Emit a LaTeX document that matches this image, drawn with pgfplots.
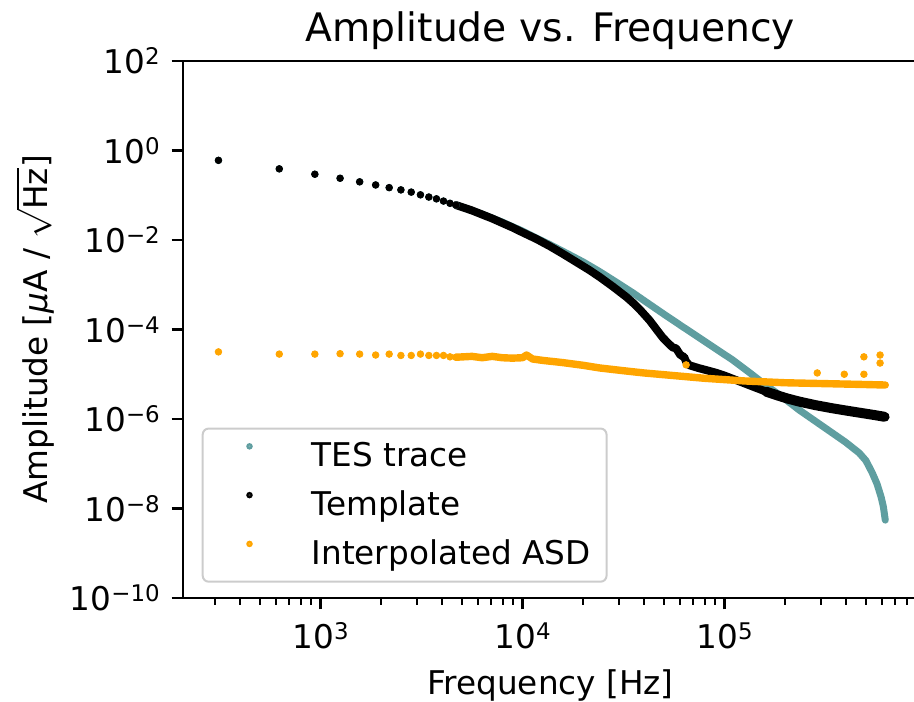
\documentclass[border=0pt]{standalone}
\usepackage{pgfplots}
\pgfplotsset{compat=1.18}
\usepackage{amsmath}
\usepackage{fontspec}
\setmainfont{DejaVu Sans}
\definecolor{tealc}{RGB}{95,158,160}
\definecolor{orangec}{RGB}{255,165,0}
\newcommand{\fs}{\fontsize{16.4}{19.7}\selectfont}
\newcommand{\ts}{\fontsize{19.7}{23.6}\selectfont}
\newcommand{\tl}[1]{10\raisebox{0.27em}{\fontsize{11.5}{11.5}\selectfont #1}}
\newcommand{\legtxt}[1]{\raisebox{0pt}[11.9bp][4bp]{#1}}
\begin{document}
\begin{tikzpicture}
\useasboundingbox (0,0) rectangle (457bp,351bp);
\begin{axis}[
  at={(91.5bp,52bp)}, anchor=south west,
  width=365.5bp, height=268.5bp, scale only axis,
  xmode=log, ymode=log,
  xmin=208.6, xmax=8.67e5, ymin=1e-10, ymax=1e2,
  axis x line*=box, axis y line*=left,
  xtick={1e3,1e4,1e5}, xticklabels={\tl{3},\tl{4},\tl{5}},
  minor xtick={300,400,500,600,700,800,900,2000,3000,4000,5000,6000,7000,8000,9000,20000,30000,40000,50000,60000,70000,80000,90000,200000,300000,400000,500000,600000,700000,800000},
  ytick={1e-10,1e-8,1e-6,1e-4,1e-2,1,1e2},
  yticklabels={\tl{−10},\tl{−8},\tl{−6},\tl{−4},\tl{−2},\tl{0},\tl{2}},
  yminorticks=false,
  tick align=outside, xtick pos=left, ytick pos=left,
  major tick length=5.7bp, minor tick length=3.3bp,
  every tick/.style={black, line width=1.3bp},
  every minor tick/.style={black, line width=1bp},
  axis line style={line width=1.3bp, black},
  xticklabel style={font=\fs, inner sep=0pt, anchor=north, yshift=-6.5bp},
  yticklabel style={font=\fs, inner sep=0pt, anchor=east, xshift=-5.7bp},
  title={Amplitude vs. Frequency},
  title style={font=\ts, at={(axis description cs:0.5027,1.014)}, anchor=base, inner sep=0pt},
  xlabel={Frequency [Hz]},
  xlabel style={font=\fs, at={(axis description cs:0.5027,-0.1788)}, anchor=base, inner sep=0pt},
  ylabel={Amplitude [\textit{μ}A / $\sqrt{\text{Hz}}$]},
  ylabel style={font=\fs, at={(axis description cs:-0.1847,0.5)}, anchor=base, inner sep=0pt},
  legend cell align=left,
  legend style={at={(axis description cs:0,0)}, anchor=south west, xshift=9.35bp, yshift=7.65bp,
    draw=black!20, line width=1bp, fill=white, fill opacity=0.8, draw opacity=1, text opacity=1,
    rounded corners=3bp, inner xsep=8bp, inner ysep=7.2bp, row sep=11bp, column sep=0pt,
    font=\fs, nodes={inner sep=0pt}},
]
% ---------------- TES trace ----------------
\addplot[only marks, mark=*, mark size=1.65bp, color=tealc, mark options={draw=none, fill=tealc},
  legend image code/.code={%
    \fill[white, opacity=0] (0bp,5bp) circle (0.1bp);
    \fill[tealc] (14.8bp,5bp) circle (1.1bp);
    \fill[white, opacity=0] (45.3bp,5bp) circle (0.1bp);}]
coordinates {
(312.5,0.6026) (625,0.3890) (937.5,0.2951) (1250,0.2399) (1562.5,0.1995)
(1875,0.1698) (2187.5,0.1479) (2500,0.1318) (2812.5,0.1175) (3125,0.1023)
(3437.5,0.0912) (3750,0.0832) (4062.5,0.0741) (4375,0.0661) (4687.5,0.0603)
};
\addlegendentry{\legtxt{TES trace}}
\addplot[tealc, line width=3.5bp, line cap=round, line join=round, forget plot]
coordinates {
(4687.5,0.0603) (6310,0.0380) (7943,0.0251) (10000,0.01585) (11272,0.01202)
(13490,0.00813) (16596,0.00501) (19953,0.00324) (24155,0.00195) (28840,0.001175)
(35156,6.61e-4) (41687,3.89e-4) (50582,2.14e-4) (61660,1.175e-4) (75336,6.46e-5)
(91201,3.63e-5) (109648,2.09e-5) (132739,1.096e-5) (158489,5.89e-6) (194984,3.02e-6)
(234423,1.585e-6) (281838,8.91e-7) (341193,4.90e-7) (398107,3.02e-7) (464515,1.74e-7)
(501187,1.175e-7) (538270,6.31e-8) (568853,3.55e-8) (595662,1.82e-8) (610942,1.12e-8)
(625000,5.50e-9)
};
% ---------------- Template ----------------
\addplot[only marks, mark=*, mark size=1.65bp, color=black, mark options={draw=none, fill=black},
  legend image code/.code={%
    \fill[white, opacity=0] (0bp,5bp) circle (0.1bp);
    \fill[black] (14.8bp,5bp) circle (1.1bp);
    \fill[white, opacity=0] (45.3bp,5bp) circle (0.1bp);}]
coordinates {
(312.5,0.6026) (625,0.3890) (937.5,0.2951) (1250,0.2399) (1562.5,0.1995)
(1875,0.1698) (2187.5,0.1479) (2500,0.1318) (2812.5,0.1175) (3125,0.1023)
(3437.5,0.0912) (3750,0.0832) (4062.5,0.0741) (4375,0.0661) (4687.5,0.0603)
};
\addlegendentry{\legtxt{Template}}
\addplot[black, line width=4bp, line cap=round, line join=round, forget plot]
coordinates {
(4687.5,0.0603) (5623,0.0457) (7079,0.0302) (8913,0.01905) (10000,0.01479)
(11749,0.01047) (13677,0.00724) (15849,0.00490) (18578,0.00316) (21380,0.00214)
(24155,0.00148) (28184,8.91e-4) (32810,5.25e-4) (35156,3.98e-4) (38019,2.82e-4)
(42658,1.585e-4) (45709,1.047e-4) (49431,6.61e-5) (52481,5.01e-5) (55335,3.98e-5)
(57544,3.80e-5) (60256,2.75e-5) (62087,2.51e-5) (63096,2.45e-5) (64565,1.905e-5)
(67143,1.585e-5) (74131,1.380e-5) (83176,1.202e-5) (91201,1.072e-5) (100000,9.33e-6)
(109648,7.94e-6) (120226,6.76e-6) (131826,5.75e-6) (144544,4.90e-6) (161065,4.07e-6)
(181970,3.39e-6) (204174,2.88e-6) (234423,2.45e-6) (281838,2.04e-6) (341193,1.74e-6)
(398107,1.55e-6) (467735,1.38e-6) (549541,1.23e-6) (625000,1.12e-6)
};
\addplot[black, line width=5bp, line cap=round, line join=round, forget plot]
coordinates {
(161065,4.07e-6) (181970,3.39e-6) (204174,2.88e-6) (234423,2.45e-6) (281838,2.04e-6)
(341193,1.74e-6) (398107,1.55e-6) (467735,1.38e-6) (549541,1.23e-6) (620000,1.12e-6)
};
% ---------------- Interpolated ASD ----------------
\addplot[only marks, mark=*, mark size=1.65bp, color=orangec, mark options={draw=none, fill=orangec},
  legend image code/.code={%
    \fill[white, opacity=0] (0bp,5bp) circle (0.1bp);
    \fill[orangec] (14.8bp,5bp) circle (1.1bp);
    \fill[white, opacity=0] (45.3bp,5bp) circle (0.1bp);}]
coordinates {
(312.5,3.16e-5) (625,2.82e-5) (937.5,2.82e-5) (1250,2.88e-5) (1562.5,2.82e-5)
(1875,2.69e-5) (2187.5,2.82e-5) (2500,2.63e-5) (2812.5,2.63e-5) (3125,2.82e-5)
(3437.5,2.63e-5) (3750,2.63e-5) (4062.5,2.63e-5) (4375,2.45e-5) (4687.5,2.40e-5)
};
\addlegendentry{\legtxt{Interpolated ASD}}
\addplot[orangec, line width=3.7bp, line cap=round, line join=round, forget plot]
coordinates {
(4687.5,2.40e-5) (5623,2.51e-5) (6310,2.34e-5) (7079,2.51e-5) (7943,2.34e-5)
(8913,2.29e-5) (10000,2.34e-5) (10471,2.69e-5) (11220,2.19e-5) (12589,2.04e-5)
(15849,1.82e-5) (19953,1.585e-5) (24155,1.38e-5) (31623,1.20e-5) (39811,1.07e-5)
(50119,9.77e-6) (63096,8.91e-6) (79433,8.13e-6) (100000,7.59e-6) (125893,7.08e-6)
(158489,6.76e-6) (199526,6.46e-6) (251189,6.31e-6) (316228,6.17e-6) (398107,6.03e-6)
(501187,5.89e-6) (625000,5.75e-6)
};
\addplot[only marks, mark=*, mark size=1.65bp, color=orangec, mark options={draw=none, fill=orangec}, forget plot]
coordinates {
(64565,1.62e-5) (287740,1.07e-5) (391742,1.00e-5) (489779,1.00e-5)
(489779,2.45e-5) (588844,2.69e-5) (588844,1.78e-5)
};
\end{axis}
\end{tikzpicture}
\end{document}
